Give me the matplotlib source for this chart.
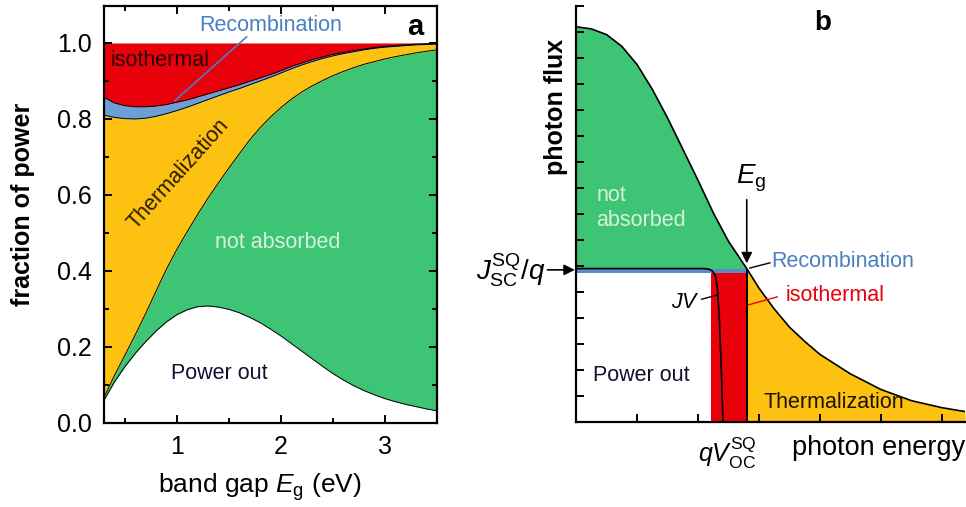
import matplotlib
matplotlib.use('Agg')
import matplotlib.pyplot as plt
import numpy as np

plt.rcParams['font.family'] = ['Liberation Sans', 'DejaVu Sans']
plt.rcParams['mathtext.fontset'] = 'custom'
plt.rcParams['mathtext.rm'] = 'Liberation Sans'
plt.rcParams['mathtext.it'] = 'Liberation Sans:italic'

# ---- panel a: fraction of power vs band gap (upper edge of each stacked region)
band_gap = [0.3, 0.4, 0.5, 0.6, 0.7, 0.8, 0.9, 1.0, 1.1, 1.2, 1.3, 1.4, 1.5,
            1.6, 1.7, 1.8, 1.9, 2.0, 2.1, 2.2, 2.3, 2.4, 2.5, 2.6, 2.7, 2.8,
            2.9, 3.0, 3.1, 3.2, 3.3, 3.4, 3.5]
top_power_out = [0.060, 0.108, 0.148, 0.183, 0.214, 0.242, 0.266, 0.285,
                 0.298, 0.306, 0.308, 0.305, 0.299, 0.290, 0.278, 0.264,
                 0.247, 0.229, 0.209, 0.189, 0.169, 0.149, 0.130, 0.113,
                 0.098, 0.085, 0.074, 0.064, 0.056, 0.049, 0.043, 0.037,
                 0.032]
top_not_absorbed = [0.068, 0.125, 0.178, 0.232, 0.288, 0.347, 0.405, 0.457,
                    0.504, 0.549, 0.592, 0.632, 0.671, 0.708, 0.745, 0.777,
                    0.805, 0.830, 0.852, 0.871, 0.887, 0.901, 0.914, 0.925,
                    0.935, 0.944, 0.951, 0.958, 0.964, 0.969, 0.974, 0.978,
                    0.982]
top_thermalization = [0.810, 0.804, 0.801, 0.800, 0.802, 0.807, 0.814, 0.822,
                      0.831, 0.841, 0.851, 0.861, 0.871, 0.880, 0.890, 0.900,
                      0.910, 0.921, 0.932, 0.942, 0.951, 0.959, 0.966, 0.972,
                      0.977, 0.982, 0.986, 0.989, 0.991, 0.993, 0.995, 0.996,
                      0.997]
top_recombination = [0.857, 0.842, 0.835, 0.832, 0.832, 0.834, 0.838, 0.844,
                     0.850, 0.858, 0.866, 0.874, 0.882, 0.890, 0.899, 0.908,
                     0.917, 0.927, 0.938, 0.947, 0.956, 0.963, 0.970, 0.975,
                     0.980, 0.984, 0.988, 0.991, 0.993, 0.995, 0.997, 0.998,
                     0.999]
top_isothermal = [1.0] * len(band_gap)

# ---- panel b: photon flux vs photon energy (arbitrary units)
photon_energy = [0.0, 0.25, 0.5, 0.75, 1.0, 1.25, 1.5, 1.75, 2.0, 2.25, 2.5,
                 2.8, 3.0, 3.25, 3.5, 3.75, 4.0, 4.5, 5.0, 5.5, 6.0, 6.38]
photon_flux = [15.2, 15.12, 14.9, 14.45, 13.75, 12.8, 11.7, 10.5, 9.3, 8.05,
               6.95, 5.9, 5.15, 4.35, 3.65, 3.1, 2.6, 1.85, 1.25, 0.82, 0.55,
               0.4]
e_gap = 2.8
v_mp = 2.22
j_sc = 5.9
j_recomb = 5.72
jv_voltage = [0.0, 2.1, 2.18, 2.24, 2.29, 2.32, 2.35, 2.38, 2.41]
jv_current = [5.9, 5.9, 5.88, 5.8, 5.6, 5.1, 4.0, 2.2, 0.0]

green = '#3dc474'
orange = '#fdc111'
red = '#e8000b'
blue_a = '#6d9fd6'
blue_b = '#5a8bc6'
blue_txt = '#4a7fc2'
pale = '#d6f2dc'

fig = plt.figure(figsize=(9.66, 5.07), dpi=100)

# ================= panel a =================
ax = fig.add_axes([0.1077, 0.1657, 0.3447, 0.8223])
x = np.array(band_gap)
layers = [np.zeros(len(x)), top_power_out, top_not_absorbed,
          top_thermalization, top_recombination, top_isothermal]
fills = ['white', green, orange, blue_a, red]
for lo, hi, c in zip(layers[:-1], layers[1:], fills):
    ax.fill_between(x, lo, hi, color=c, lw=0)
for b in layers[1:-1]:
    ax.plot(x, b, color='black', lw=0.7)

ax.set_xlim(0.3, 3.5)
ax.set_ylim(0, 1.097)
ax.set_xticks([1, 2, 3])
ax.set_xticks([0.5, 1.5, 2.5, 3.5], minor=True)
ax.set_yticks([0, 0.2, 0.4, 0.6, 0.8, 1.0])
ax.set_yticks(np.arange(0.1, 1.1, 0.2), minor=True)
ax.set_yticklabels(['0.0', '0.2', '0.4', '0.6', '0.8', '1.0'])
ax.tick_params(which='both', direction='in', top=True, right=True,
               width=1.4, labelsize=18, pad=9)
ax.tick_params(which='major', length=6)
ax.tick_params(which='minor', length=3.5)
for s in ax.spines.values():
    s.set_linewidth(1.6)
ax.set_xlabel(r'band gap $E_{\mathrm{g}}$ (eV)', fontsize=19)
ax.xaxis.set_label_coords(0.468, -0.115)
ax.set_ylabel('fraction of power', fontsize=18, fontweight='bold')
ax.yaxis.set_label_coords(-0.207, 0.525)

ax.text(3.37, 1.042, 'a', fontsize=21, fontweight='bold', ha='right', va='center')
ax.text(1.9, 1.045, 'Recombination', fontsize=15.5, color=blue_txt,
        ha='center', va='center')
ax.plot([1.67, 0.98], [1.016, 0.848], color=blue_txt, lw=1.2)
ax.text(0.36, 0.955, 'isothermal', fontsize=15.5, color='#2a0000',
        ha='left', va='center')
ax.text(1.02, 0.655, 'Thermalization', fontsize=15.5, color='#2a1a00',
        rotation=48, ha='center', va='center')
ax.text(1.97, 0.474, 'not absorbed', fontsize=15.5, color=pale,
        ha='center', va='center')
ax.text(1.41, 0.13, 'Power out', fontsize=15.5, color='#101030',
        ha='center', va='center')

# ================= panel b =================
bx = fig.add_axes([0.5963, 0.1677, 0.4027, 0.8205])
e = np.array(photon_energy)
n = np.array(photon_flux)
bx.fill_between(e, n, j_sc, where=e <= e_gap, color=green, lw=0)
bx.fill_between(e, n, 0, where=e >= e_gap, color=orange, lw=0)
bx.fill_between([v_mp, e_gap], 0, j_recomb, color=red, lw=0)
bx.fill_between([0, e_gap], j_recomb, j_sc, color=blue_b, lw=0)
bx.plot(e, n, color='black', lw=1.2)
bx.plot(jv_voltage, jv_current, color='black', lw=1.2)
bx.vlines(e_gap, 0, j_sc, color='black', lw=1.4)

bx.set_xlim(0, 6.38)
bx.set_ylim(0, 16)
bx.set_xticks(np.arange(0, 7, 1))
bx.set_yticks(np.arange(0, 17, 1))
bx.set_xticklabels([])
bx.set_yticklabels([])
bx.tick_params(direction='in', width=1.4, length=6)
bx.spines['top'].set_visible(False)
bx.spines['right'].set_visible(False)
for s in ['left', 'bottom']:
    bx.spines[s].set_linewidth(1.6)
bx.set_ylabel('photon flux', fontsize=18, fontweight='bold')
bx.yaxis.set_label_coords(-0.021, 0.757)

bx.text(4.05, 15.35, 'b', fontsize=20, fontweight='bold', ha='center', va='center')
bx.text(0.33, 8.7, 'not', fontsize=15.5, color=pale, ha='left', va='center')
bx.text(0.33, 7.73, 'absorbed', fontsize=15.5, color=pale, ha='left', va='center')
bx.text(0.28, 1.77, 'Power out', fontsize=15.5, color='#101030', ha='left', va='center')
bx.text(3.07, 0.73, 'Thermalization', fontsize=15.5, color='#1a1400', ha='left', va='center')
bx.text(2.87, 9.38, r'$E_{\mathrm{g}}$', fontsize=20, ha='center', va='center')
bx.annotate('', xy=(e_gap, 6.1), xytext=(e_gap, 8.55),
            arrowprops=dict(arrowstyle='-|>', color='black', lw=1.2,
                            mutation_scale=16, shrinkA=0, shrinkB=0))
bx.annotate('', xy=(-0.02, j_sc - 0.05), xytext=(-0.47, j_sc - 0.05),
            annotation_clip=False,
            arrowprops=dict(arrowstyle='-|>', color='black', lw=1.2,
                            mutation_scale=16, shrinkA=0, shrinkB=0))
bx.text(-0.5, j_sc - 0.05, r'$J_{\mathrm{SC}}^{\mathrm{SQ}}/q$', fontsize=20,
        ha='right', va='center', clip_on=False)
bx.text(3.21, 6.19, 'Recombination', fontsize=15.5, color=blue_txt,
        ha='left', va='center')
bx.plot([3.18, 2.85], [6.12, 5.92], color='black', lw=1.0)
bx.text(3.43, 4.88, 'isothermal', fontsize=15.5, color=red, ha='left', va='center')
bx.plot([3.3, 2.82], [4.81, 4.5], color=red, lw=1.0)
bx.text(2.03, 4.6, r'$JV$', fontsize=15.5, ha='right', va='center')
bx.plot([2.06, 2.31], [4.72, 4.88], color='black', lw=1.0)
bx.text(2.48, -1.2, r'$qV_{\mathrm{OC}}^{\mathrm{SQ}}$', fontsize=18,
        ha='center', va='center', clip_on=False)
bx.text(6.38, -1.0, 'photon energy', fontsize=19.5, ha='right', va='center',
        clip_on=False)

fig.savefig('out.png', dpi=100)
